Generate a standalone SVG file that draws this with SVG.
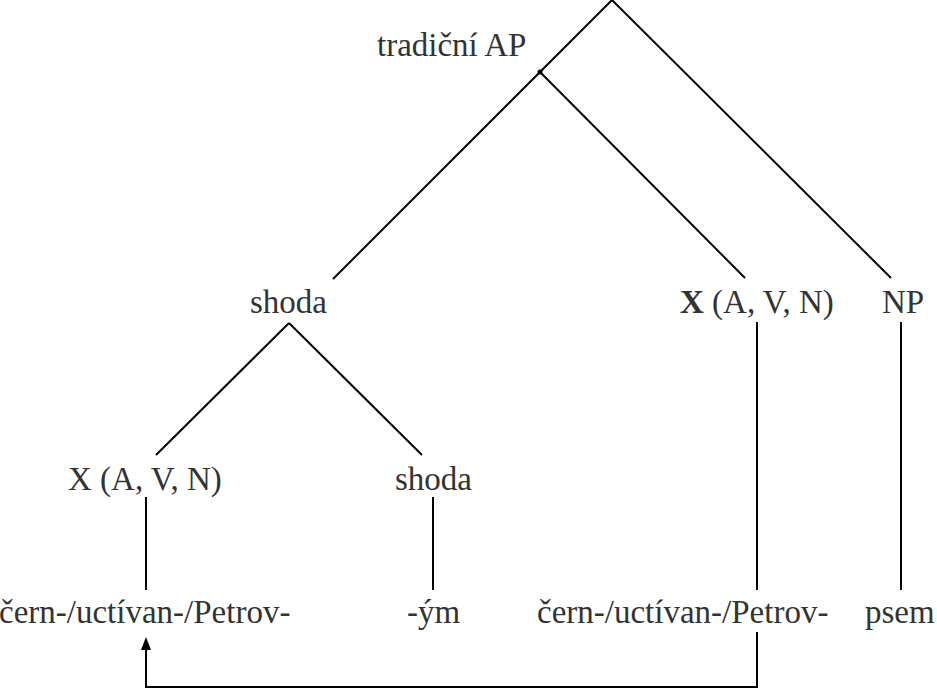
<svg xmlns="http://www.w3.org/2000/svg" width="937" height="691" viewBox="0 0 937 691">
<style>
.t{font-family:'Liberation Serif',Tinos,'Times New Roman','Noto Serif','DejaVu Serif',serif;font-size:33px;fill:#333}
.b{font-weight:bold}
.e{stroke:#000;stroke-width:2;fill:none}
</style>
<rect width="937" height="691" fill="#fff"/>
<g id="connectors">
<line class="e" x1="612" y1="0" x2="333" y2="279"/>
<line class="e" x1="540" y1="72" x2="745" y2="278"/>
<line class="e" x1="612" y1="0" x2="891" y2="278"/>
<circle cx="540" cy="72" r="2.5" fill="#000"/>
<line class="e" x1="289" y1="323" x2="156" y2="455"/>
<line class="e" x1="289" y1="323" x2="422" y2="455"/>
<line class="e" x1="146" y1="497" x2="146" y2="590"/>
<line class="e" x1="433" y1="497" x2="433" y2="590"/>
<line class="e" x1="757" y1="322" x2="757" y2="590"/>
<line class="e" x1="901" y1="322" x2="901" y2="590"/>
<path class="e" d="M757,632 V687 H146 V650"/>
<path d="M146,637 L151,650 L141,650 Z" fill="#000"/>
</g>
<g id="root"><text class="t" x="377" y="56">tradiční AP</text></g>
<g id="shoda1"><text class="t" x="250" y="313">shoda</text></g>
<g id="x1"><text class="t" x="680" y="313"><tspan class="b">X</tspan> (A, V, N)</text></g>
<g id="np"><text class="t" x="882" y="313">NP</text></g>
<g id="x2"><text class="t" x="68" y="490">X (A, V, N)</text></g>
<g id="shoda2"><text class="t" x="395" y="490">shoda</text></g>
<g id="stem1"><text class="t" x="-1" y="623">čern-/uctívan-/Petrov-</text></g>
<g id="suffix"><text class="t" x="407" y="623">-ým</text></g>
<g id="stem2"><text class="t" x="537" y="623">čern-/uctívan-/Petrov-</text></g>
<g id="psem"><text class="t" x="865" y="623">psem</text></g>
</svg>
